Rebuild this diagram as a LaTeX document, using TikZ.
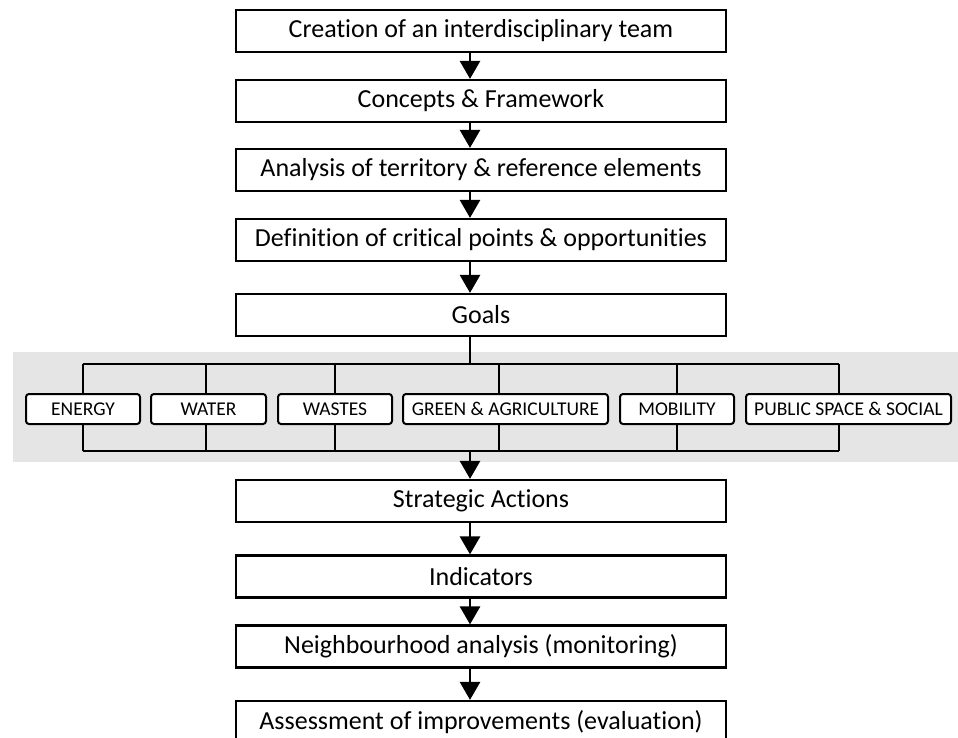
\documentclass[tikz,border=0pt]{standalone}
\usepackage{fontspec}
\setmainfont{Carlito}[Ligatures=NoCommon]
\usetikzlibrary{arrows.meta,calc}
\begin{document}
\begin{tikzpicture}[x=1pt,y=-1pt,
  mainbox/.style={draw,line width=2.2pt,minimum width=490pt,minimum height=42pt,inner sep=0pt,fill=white,font=\fontsize{26}{30}\selectfont},
  smallbox/.style={draw,line width=2pt,rounded corners=3pt,minimum height=30pt,inner sep=0pt,fill=white,font=\fontsize{19.5}{22}\selectfont},
  link/.style={line width=2.2pt},
  arr/.style={line width=2.8pt,-{Triangle[width=20pt,length=18pt]}}]
\useasboundingbox (0,0) rectangle (958,738);
\clip (0,0) rectangle (958,738);
\fill[black!10] (13,352) rectangle (958,462);
\coordinate (ax) at (470,0);
% main boxes
\node[mainbox] (b1) at (481,31) {Creation of an interdisciplinary team};
\node[mainbox] (b2) at (481,101) {Concepts \& Framework};
\node[mainbox] (b3) at (481,170) {Analysis of territory \& reference elements};
\node[mainbox] (b4) at (481,240) {Definition of critical points \& opportunities};
\node[mainbox] (g) at (481,315) {Goals};
\node[mainbox] (sa) at (481,501) {Strategic Actions};
\node[mainbox] (ind) at (481,576.5) {Indicators};
\node[mainbox] (nb) at (481,646.5) {Neighbourhood analysis (monitoring)};
\node[mainbox] (as) at (481,722) {Assessment of improvements (evaluation)};
% bus coordinates
\coordinate (t1) at (83,364);
\coordinate (t2) at (206,364);
\coordinate (t3) at (335,364);
\coordinate (t4) at (499,364);
\coordinate (t5) at (677,364);
\coordinate (t6) at (839,364);
\coordinate (u1) at (83,451);
\coordinate (u2) at (206,451);
\coordinate (u3) at (335,451);
\coordinate (u4) at (499,451);
\coordinate (u5) at (677,451);
\coordinate (u6) at (839,451);
\coordinate (tc) at (470,364);
\coordinate (uc) at (470,451);
% buses and verticals (drawn beneath small boxes)
\draw[link] (t1) -- (t6);
\draw[link] (u1) -- (u6);
\draw[link] (g.south -| ax) -- (tc);
\foreach \i in {1,...,6} {\draw[link] (t\i) -- (u\i);}
% small boxes
\node[smallbox,minimum width=114pt] (en) at (83,409) {ENERGY};
\node[smallbox,minimum width=115pt] (wa) at (208.5,409) {WATER};
\node[smallbox,minimum width=114pt] (ws) at (335,409) {WASTES};
\node[smallbox,minimum width=205pt] (gr) at (505.5,409) {GREEN \& AGRICULTURE};
\node[smallbox,minimum width=114pt] (mo) at (677,409) {MOBILITY};
\node[smallbox,minimum width=205pt] (ps) at (848.5,409) {PUBLIC SPACE \& SOCIAL};
% arrows
\draw[arr] (b1.south -| ax) -- (b2.north -| ax);
\draw[arr] (b2.south -| ax) -- (b3.north -| ax);
\draw[arr] (b3.south -| ax) -- (b4.north -| ax);
\draw[arr] (b4.south -| ax) -- (g.north -| ax);
\draw[arr] (uc) -- (sa.north -| ax);
\draw[arr] (sa.south -| ax) -- (ind.north -| ax);
\draw[arr] (ind.south -| ax) -- (nb.north -| ax);
\draw[arr] (nb.south -| ax) -- (as.north -| ax);
\end{tikzpicture}
\end{document}
